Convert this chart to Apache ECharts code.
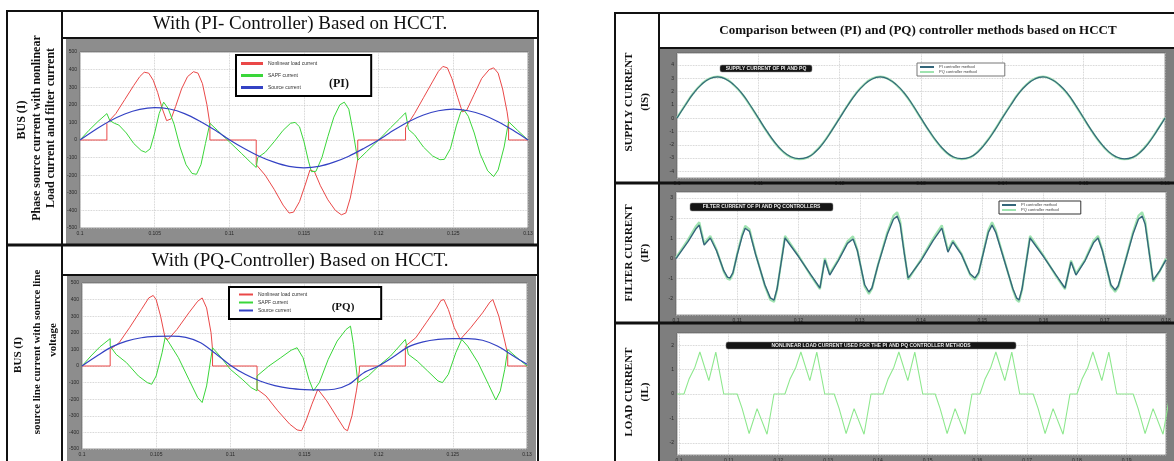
<!DOCTYPE html>
<html>
<head>
<meta charset="utf-8">
<title>PI / PQ controller based on HCCT</title>
<script src="https://cdn.jsdelivr.net/npm/echarts@6/dist/echarts.min.js"></script>
<style>
html,body{margin:0;padding:0;background:#fff;}
#main{width:1174px;height:461px;}
</style>
</head>
<body>
<div id="main"></div>
<script type="text/javascript">
// ---- left figure data (time in s, current in A) ----
var leftTime = [0.100,0.101,0.102,0.103,0.104,0.105,0.106,0.107,0.108,0.109,
                0.110,0.111,0.112,0.113,0.114,0.115,0.116,0.117,0.118,0.119,
                0.120,0.121,0.122,0.123,0.124,0.125,0.126,0.127,0.128,0.129,0.130];
var piSource = [0,57,108,148,174,184,176,150,108,58,
                2,-48,-92,-126,-150,-158,-150,-126,-92,-48,
                0,55,104,142,166,175,166,142,104,55,0];
var pqSource = [0,60,115,150,170,178,180,172,140,75,
                5,-50,-90,-118,-135,-142,-144,-140,-110,-40,
                0,55,115,145,160,165,165,155,120,65,10];

var piLoad = [[0.1,0],[0.1018,0],[0.1018,95],[0.1024,150],[0.1030,230],[0.1036,310],[0.1040,360],[0.1043,385],[0.1046,380],
  [0.1049,340],[0.1052,270],[0.1055,180],[0.1058,110],[0.1061,120],[0.1064,190],[0.1068,290],[0.1072,360],[0.1076,388],
  [0.1079,380],[0.1082,320],[0.1085,200],[0.1087,90],[0.1087,0],
  [0.1118,0],[0.1118,-140],[0.1124,-200],[0.1130,-280],[0.1136,-370],[0.1140,-415],[0.1143,-410],[0.1147,-350],[0.1151,-250],
  [0.1154,-170],[0.1157,-180],[0.1161,-260],[0.1166,-340],[0.1171,-400],[0.1175,-425],[0.1178,-415],[0.1181,-330],[0.1184,-200],
  [0.1186,-110],[0.1186,0],
  [0.1218,0],[0.1218,70],[0.1224,150],[0.1230,240],[0.1236,330],[0.1240,390],[0.1243,418],[0.1246,410],[0.1249,350],
  [0.1253,240],[0.1256,160],[0.1259,170],[0.1264,260],[0.1269,350],[0.1274,400],[0.1277,410],[0.1280,380],[0.1283,290],
  [0.1286,160],[0.1287,100],[0.1287,0],[0.13,0]];
var piFilter = [[0.1,0],[0.1006,55],[0.1012,105],[0.1018,150],[0.1020,110],[0.1023,95],[0.1026,85],[0.1031,40],[0.1036,-20],
  [0.1041,-60],[0.1044,-70],[0.1047,-50],[0.1050,40],[0.1053,150],[0.1056,215],[0.1059,180],[0.1063,90],[0.1067,-40],
  [0.1071,-140],[0.1075,-190],[0.1078,-195],[0.1081,-140],[0.1084,-20],[0.1087,95],[0.1092,55],[0.1100,-10],[0.1108,-75],
  [0.1114,-125],[0.1118,-156],[0.1119,-100],[0.1124,-70],[0.1130,-10],[0.1136,55],[0.1141,95],[0.1144,100],[0.1147,75],
  [0.1150,-10],[0.1153,-120],[0.1155,-180],[0.1158,-178],[0.1162,-100],[0.1166,20],[0.1170,130],[0.1174,200],[0.1177,215],
  [0.1180,175],[0.1183,40],[0.1186,-115],[0.1192,-65],[0.1200,0],[0.1208,70],[0.1214,120],[0.1218,155],[0.1220,60],
  [0.1224,30],[0.1230,-40],[0.1236,-90],[0.1241,-112],[0.1244,-110],[0.1248,-50],[0.1252,80],[0.1255,160],[0.1257,172],
  [0.1260,135],[0.1264,40],[0.1268,-80],[0.1273,-175],[0.1277,-208],[0.1280,-170],[0.1284,-40],[0.1287,104],[0.1293,55],[0.1300,0]];

var pqLoad = [[0.1,0],[0.1019,0],[0.1019,100],[0.1025,140],[0.1032,230],[0.1040,340],[0.1045,410],[0.1048,425],[0.1050,400],
  [0.1053,300],[0.1056,170],[0.1058,160],[0.1064,220],[0.1072,320],[0.1078,390],[0.1081,410],[0.1084,350],[0.1087,200],
  [0.1088,100],[0.1088,0],
  [0.1118,0],[0.1118,-140],[0.1124,-180],[0.1132,-270],[0.1140,-350],[0.1145,-385],[0.1148,-390],[0.1151,-330],[0.1155,-230],
  [0.1159,-140],[0.1165,-210],[0.1172,-310],[0.1177,-380],[0.1179,-390],[0.1182,-300],[0.1185,-150],[0.1187,-30],[0.1187,0],
  [0.1218,0],[0.1218,120],[0.1225,170],[0.1232,260],[0.1239,350],[0.1242,395],[0.1244,400],[0.1247,340],[0.1251,230],
  [0.1255,160],[0.1262,230],[0.1270,320],[0.1275,385],[0.1277,400],[0.1281,300],[0.1285,150],[0.1287,70],[0.1287,0],[0.13,0]];
var pqFilter = [[0.1,0],[0.1006,60],[0.1012,115],[0.1019,165],[0.1019,120],[0.1023,70],[0.1030,20],[0.1038,-60],[0.1044,-100],
  [0.1047,-110],[0.1050,-60],[0.1054,80],[0.1056,170],[0.1058,150],[0.1065,50],[0.1072,-80],[0.1078,-190],[0.1081,-220],
  [0.1084,-120],[0.1088,110],[0.1093,60],[0.1100,-20],[0.1108,-80],[0.1114,-130],[0.1118,-150],[0.1118,-60],[0.1126,0],
  [0.1134,50],[0.1141,95],[0.1145,110],[0.1149,50],[0.1153,-80],[0.1156,-150],[0.1160,-100],[0.1166,40],[0.1172,150],
  [0.1178,220],[0.1181,240],[0.1183,130],[0.1186,-100],[0.1193,-60],[0.1200,0],[0.1208,60],[0.1214,120],[0.1218,160],
  [0.1220,70],[0.1226,30],[0.1233,-30],[0.1240,-90],[0.1243,-100],[0.1247,-50],[0.1252,80],[0.1256,160],[0.1260,120],
  [0.1267,20],[0.1274,-110],[0.1279,-205],[0.1282,-150],[0.1285,-20],[0.1287,100],[0.1292,60],[0.13,0]];

// ---- right figure data ----
var supplyTime = [0.100,0.101,0.102,0.103,0.104,0.105,0.106,0.107,0.108,0.109,
                  0.110,0.111,0.112,0.113,0.114,0.115,0.116,0.117,0.118,0.119,
                  0.120,0.121,0.122,0.123,0.124,0.125,0.126,0.127,0.128,0.129,
                  0.130,0.131,0.132,0.133,0.134,0.135,0.136,0.137,0.138,0.139,
                  0.140,0.141,0.142,0.143,0.144,0.145,0.146,0.147,0.148,0.149,
                  0.150,0.151,0.152,0.153,0.154,0.155,0.156,0.157,0.158,0.159,0.160];
var supplyPI = [0,0.95,1.84,2.52,2.96,3.1,2.93,2.5,1.85,0.97,
                0.02,-0.94,-1.8,-2.48,-2.9,-3.05,-2.95,-2.55,-1.86,-0.96,
                0,0.96,1.83,2.5,2.95,3.1,2.93,2.5,1.85,0.97,
                0,-0.95,-1.81,-2.49,-2.92,-3.05,-2.94,-2.54,-1.84,-0.97,
                0.01,0.95,1.84,2.51,2.95,3.1,2.92,2.51,1.86,0.98,
                0.01,-0.95,-1.8,-2.48,-2.91,-3.06,-2.95,-2.55,-1.85,-0.96,0];
var supplyPQ = [0.03,0.98,1.87,2.55,2.99,3.13,2.96,2.47,1.82,0.94,
                -0.02,-0.97,-1.83,-2.51,-2.94,-3.08,-2.97,-2.52,-1.82,-0.93,
                0.03,0.99,1.86,2.53,2.98,3.13,2.95,2.47,1.82,0.94,
                -0.03,-0.98,-1.84,-2.52,-2.95,-3.08,-2.96,-2.51,-1.81,-0.94,
                0.04,0.98,1.87,2.54,2.98,3.13,2.94,2.48,1.83,0.95,
                -0.02,-0.98,-1.83,-2.51,-2.94,-3.09,-2.97,-2.52,-1.82,-0.93,0.03];

var filterPI = [[0.1,0],[0.1020,0.85],[0.1032,1.45],[0.1038,1.66],[0.1046,0.67],[0.1056,1.02],[0.1066,0.4],[0.1078,-0.6],
  [0.1084,-0.92],[0.1088,-0.97],[0.1093,-0.7],[0.1100,0.2],[0.1108,1.1],[0.1113,1.5],[0.1116,1.56],[0.1120,1.35],[0.1130,0.2],
  [0.1145,-1.3],[0.1154,-1.95],[0.1160,-2.06],[0.1165,-1.5],[0.1178,1.02],[0.1200,0.1],[0.1220,-0.8],[0.1235,-1.46],
  [0.1243,-0.07],[0.1251,-0.82],[0.1265,-0.1],[0.1280,0.75],[0.1289,0.97],[0.1296,0.4],[0.1308,-1.3],[0.1315,-1.66],
  [0.1320,-1.45],[0.1330,-0.3],[0.1345,1.2],[0.1355,1.95],[0.1361,2.11],[0.1366,1.7],[0.1373,0.2],[0.1379,-0.97],
  [0.1400,-0.1],[0.1420,0.9],[0.1434,1.51],[0.1444,0.32],[0.1452,0.82],[0.1466,0.2],[0.1480,-0.75],[0.1488,-0.97],
  [0.1494,-0.7],[0.1502,0.3],[0.1510,1.3],[0.1516,1.66],[0.1522,1.3],[0.1535,0],[0.1550,-1.5],[0.1556,-1.95],[0.1560,-2.06],
  [0.1565,-1.5],[0.1578,1.02],[0.1600,0.1],[0.1620,-0.8],[0.1635,-1.46],[0.1645,-0.17],[0.1653,-0.82],[0.1668,-0.1],
  [0.1682,0.8],[0.1689,1.02],[0.1696,0.4],[0.1710,-1.3],[0.1717,-1.56],[0.1722,-1.35],[0.1733,-0.2],[0.1746,1.2],
  [0.1755,1.95],[0.1761,2.11],[0.1766,1.7],[0.1773,0.2],[0.1779,-1.07],[0.1790,-0.6],[0.18,-0.07]];
var filterPQ = [[0.1,0.05],[0.1020,0.95],[0.1032,1.58],[0.1038,1.8],[0.1046,0.75],[0.1056,1.12],[0.1066,0.45],[0.1078,-0.65],
  [0.1084,-1.0],[0.1088,-1.05],[0.1093,-0.75],[0.1100,0.25],[0.1108,1.2],[0.1113,1.62],[0.1116,1.7],[0.1120,1.45],[0.1130,0.25],
  [0.1145,-1.35],[0.1154,-2.05],[0.1160,-2.15],[0.1165,-1.55],[0.1178,1.12],[0.1200,0.15],[0.1220,-0.85],[0.1235,-1.52],
  [0.1243,0.02],[0.1251,-0.75],[0.1265,-0.05],[0.1280,0.85],[0.1289,1.1],[0.1296,0.45],[0.1308,-1.38],[0.1315,-1.75],
  [0.1320,-1.5],[0.1330,-0.28],[0.1345,1.3],[0.1355,2.12],[0.1361,2.3],[0.1366,1.85],[0.1373,0.25],[0.1379,-1.05],
  [0.1400,-0.05],[0.1420,1.0],[0.1434,1.65],[0.1444,0.4],[0.1452,0.9],[0.1466,0.25],[0.1480,-0.8],[0.1488,-1.05],
  [0.1494,-0.75],[0.1502,0.35],[0.1510,1.42],[0.1516,1.8],[0.1522,1.4],[0.1535,0.05],[0.1550,-1.55],[0.1556,-2.05],[0.1560,-2.15],
  [0.1565,-1.55],[0.1578,1.12],[0.1600,0.15],[0.1620,-0.85],[0.1635,-1.52],[0.1645,-0.1],[0.1653,-0.75],[0.1668,-0.05],
  [0.1682,0.9],[0.1689,1.12],[0.1696,0.45],[0.1710,-1.38],[0.1717,-1.65],[0.1722,-1.42],[0.1733,-0.18],[0.1746,1.3],
  [0.1755,2.12],[0.1761,2.3],[0.1766,1.85],[0.1773,0.25],[0.1779,-1.15],[0.1790,-0.62],[0.18,0]];

var loadCurrent = [[0.0996,0],[0.1010,0],[0.1020,0.6],[0.1032,1.1],[0.1042,1.72],[0.1060,0.55],[0.1074,1.72],[0.1090,0],
  [0.1117,0],[0.1127,-0.6],[0.1141,-1.62],[0.1157,-0.6],[0.1177,-1.65],[0.1191,0],
  [0.1213,0],[0.1223,0.6],[0.1235,1.1],[0.1245,1.72],[0.1263,0.55],[0.1277,1.72],[0.1293,0],
  [0.1312,0],[0.1322,-0.6],[0.1336,-1.62],[0.1352,-0.6],[0.1372,-1.65],[0.1386,0],
  [0.1410,0],[0.1420,0.6],[0.1432,1.1],[0.1442,1.72],[0.1460,0.55],[0.1474,1.72],[0.1490,0],
  [0.1515,0],[0.1525,-0.6],[0.1539,-1.62],[0.1555,-0.6],[0.1575,-1.65],[0.1589,0],
  [0.1605,0],[0.1615,0.6],[0.1627,1.1],[0.1637,1.72],[0.1655,0.55],[0.1669,1.72],[0.1685,0],
  [0.1712,0],[0.1722,-0.6],[0.1736,-1.62],[0.1752,-0.6],[0.1772,-1.65],[0.1786,0],
  [0.1800,0],[0.1810,0.6],[0.1822,1.1],[0.1832,1.72],[0.1850,0.55],[0.1864,1.72],[0.1880,0],
  [0.1913,0],[0.1923,-0.6],[0.1937,-1.62],[0.1953,-0.6],[0.1973,-1.65],[0.1987,0]];

var leftNames = ['Nonlinear load current', 'SAPF current', 'Source current'];
var rightNames = ['PI controller method', 'PQ controller method'];

var red = '#ea4848', green = '#3ad63a', blue = '#3442c4';
var piDark = '#34667a', pqLight = '#9fe3b0', loadGreen = '#8ee88e';
var serif = '"Liberation Serif", "DejaVu Serif", serif';

function pairs(xs, ys){
    return xs.map(function(x, i){ return [x, ys[i]]; });
}

var myChart = echarts.init(document.getElementById('main'));

var gridBox = [
    {left:80,  top:52,  width:448, height:176},
    {left:82,  top:283, width:445, height:166},
    {left:677, top:53,  width:488, height:125},
    {left:676, top:192, width:490, height:123},
    {left:677, top:333, width:489, height:122}
];
var grids = gridBox.map(function(g){
    return {left:g.left, top:g.top, width:g.width, height:g.height, show:true,
            backgroundColor:'#fff', borderColor:'#555', borderWidth:0.6, z:2, outerBoundsMode:'none'};
});

var axisLab = {fontSize:5, color:'#2a2a2a', margin:3, fontFamily:'"Liberation Sans", sans-serif'};
var split = {show:true, lineStyle:{color:'#c4c4c4', type:'dotted', width:0.8}};
function xAx(i, min, max, interval, extra){
    var a = {type:'value', gridIndex:i, min:min, max:max, z:3,
             axisLine:{show:false}, axisTick:{show:false}, splitLine:split, axisLabel:axisLab};
    if (interval) a.interval = interval;
    return Object.assign(a, extra || {});
}
function yAx(i, min, max, interval, extra){
    var a = {type:'value', gridIndex:i, min:min, max:max, z:3,
             axisLine:{show:false}, axisTick:{show:false}, splitLine:split, axisLabel:axisLab};
    if (interval) a.interval = interval;
    return Object.assign(a, extra || {});
}
var noEdge = {axisLabel:Object.assign({}, axisLab, {showMinLabel:false, showMaxLabel:false})};

function line(name, i, data, color, width, z, smooth){
    return {name:name, type:'line', xAxisIndex:i, yAxisIndex:i, data:data, symbol:'none',
            smooth:smooth || false, z:z, lineStyle:{color:color, width:width}, itemStyle:{color:color},
            emphasis:{disabled:true}, animation:false};
}

function legendBox(left, top, names, o){
    return Object.assign({left:left, top:top, orient:'vertical', data:names, icon:'rect',
        backgroundColor:'#fff', borderColor:'#000', borderWidth:2, borderRadius:0, z:8,
        selectedMode:false, textStyle:{fontSize:5, color:'#333', fontFamily:'"Liberation Sans", sans-serif'}}, o);
}

function frame(x, y, w, h, fill){
    return {type:'rect', z:-10, shape:{x:x, y:y, width:w, height:h}, style:{fill:fill}, silent:true};
}
function bar(x1, y1, x2, y2, w){
    return {type:'line', z:20, shape:{x1:x1, y1:y1, x2:x2, y2:y2}, style:{stroke:'#111', lineWidth:w}, silent:true};
}
function txt(x, y, s, font, rot){
    return {type:'text', z:20, x:x, y:y, rotation:rot || 0, silent:true,
            style:{text:s, font:font, fill:'#111', textAlign:'center', textVerticalAlign:'middle'}};
}
function tag(x, y, w, h, s){
    return {type:'group', z:20, silent:true, children:[
        {type:'rect', z:20, shape:{x:x, y:y, width:w, height:h, r:2}, style:{fill:'#151515', stroke:'#888', lineWidth:0.5}},
        {type:'text', z:21, x:x + w / 2, y:y + h / 2, style:{text:s, font:'bold 5px "Liberation Sans"', fill:'#e8e8e8',
            textAlign:'center', textVerticalAlign:'middle'}}
    ]};
}

var option = {
    backgroundColor:'#fff',
    animation:false,
    grid: grids,
    xAxis: [
        xAx(0, 0.1, 0.13, 0.005),
        xAx(1, 0.1, 0.13, 0.005),
        xAx(2, 0.1, 0.16, 0.01),
        xAx(3, 0.1, 0.18, 0.01),
        xAx(4, 0.0996, 0.1979, null, Object.assign({splitNumber:10}, noEdge))
    ],
    yAxis: [
        yAx(0, -500, 500, 100),
        yAx(1, -500, 500, 100),
        yAx(2, -4.5, 4.9, null, Object.assign({splitNumber:9}, noEdge)),
        yAx(3, -2.8, 3.3, null, Object.assign({splitNumber:6}, noEdge)),
        yAx(4, -2.5, 2.5, null, Object.assign({splitNumber:5}, noEdge))
    ],
    legend: [
        legendBox(236, 55, leftNames, {itemWidth:22, itemHeight:3, itemGap:7, padding:[6, 54, 6, 5]}),
        legendBox(229, 287, leftNames, {itemWidth:14, itemHeight:2, itemGap:3, padding:[5, 74, 6, 10]}),
        legendBox(917, 63, rightNames, {itemWidth:14, itemHeight:2, itemGap:1, padding:[2, 28, 2, 3],
            borderColor:'#777', borderWidth:1, textStyle:{fontSize:4, color:'#444'}}),
        legendBox(999, 201, rightNames, {itemWidth:14, itemHeight:2, itemGap:1, padding:[2, 22, 2, 3],
            borderColor:'#333', borderWidth:1, textStyle:{fontSize:4, color:'#444'}})
    ],
    graphic: {elements: [
        frame(66, 39, 468, 206, '#8d8d8d'),
        frame(67, 276, 469, 190, '#8d8d8d'),
        frame(660, 49, 520, 134, '#7e7e7e'),
        frame(660, 184, 520, 139, '#7e7e7e'),
        frame(660, 324, 520, 140, '#7e7e7e'),
        // borders of the two figures
        {type:'rect', z:20, silent:true, shape:{x:7, y:11, width:531, height:470}, style:{fill:null, stroke:'#111', lineWidth:2}},
        bar(62, 11, 62, 470, 2),
        bar(62, 38, 538, 38, 2),
        bar(7, 245, 538, 245, 3),
        bar(62, 275, 538, 275, 2),
        {type:'rect', z:20, silent:true, shape:{x:615, y:13, width:570, height:470}, style:{fill:null, stroke:'#111', lineWidth:2}},
        bar(659, 13, 659, 470, 2),
        bar(659, 48, 1174, 48, 2),
        bar(615, 183, 1174, 183, 3),
        bar(615, 323, 1174, 323, 3),
        // titles
        txt(300, 24, 'With (PI- Controller) Based on HCCT.', '19px ' + serif),
        txt(300, 261, 'With (PQ-Controller) Based on HCCT.', '19px ' + serif),
        txt(918, 31, 'Comparison between (PI) and (PQ) controller methods based on HCCT', 'bold 13px ' + serif),
        // row labels
        txt(22, 120, 'BUS (I)', 'bold 12px ' + serif, Math.PI / 2),
        txt(37, 128, 'Phase source current with nonlinear', 'bold 12px ' + serif, Math.PI / 2),
        txt(51, 128, 'Load current and filter current', 'bold 12px ' + serif, Math.PI / 2),
        txt(18, 355, 'BUS (I)', 'bold 11px ' + serif, Math.PI / 2),
        txt(37, 352, 'source line current with source line', 'bold 11px ' + serif, Math.PI / 2),
        txt(53, 340, 'voltage', 'bold 11px ' + serif, Math.PI / 2),
        txt(629, 102, 'SUPPLY CURRENT', 'bold 11px ' + serif, Math.PI / 2),
        txt(645, 102, '(IS)', 'bold 11px ' + serif, Math.PI / 2),
        txt(629, 253, 'FILTER CURRENT', 'bold 11px ' + serif, Math.PI / 2),
        txt(645, 253, '(IF)', 'bold 11px ' + serif, Math.PI / 2),
        txt(629, 392, 'LOAD CURRENT', 'bold 11px ' + serif, Math.PI / 2),
        txt(645, 392, '(IL)', 'bold 11px ' + serif, Math.PI / 2),
        // controller tags inside the legends
        txt(339, 84, '(PI)', 'bold 12px ' + serif),
        txt(343, 307, '(PQ)', 'bold 11px ' + serif),
        // black caption boxes on the right plots
        tag(720, 65, 92, 7, 'SUPPLY CURRENT OF PI AND PQ'),
        tag(690, 203, 143, 8, 'FILTER CURRENT OF PI AND PQ CONTROLLERS'),
        tag(726, 342, 290, 7, 'NONLINEAR LOAD CURRENT USED FOR THE PI AND PQ CONTROLLER METHODS')
    ]},
    series: [
        line(leftNames[0], 0, piLoad, red, 1, 4),
        line(leftNames[1], 0, piFilter, green, 1, 5),
        line(leftNames[2], 0, pairs(leftTime, piSource), blue, 1.2, 6, 0.3),
        line(leftNames[0], 1, pqLoad, red, 1, 4),
        line(leftNames[1], 1, pqFilter, green, 1, 5),
        line(leftNames[2], 1, pairs(leftTime, pqSource), blue, 1.2, 6, 0.3),
        line(rightNames[1], 2, pairs(supplyTime, supplyPQ), pqLight, 2.2, 4, true),
        line(rightNames[0], 2, pairs(supplyTime, supplyPI), piDark, 1.2, 5, true),
        line(rightNames[1], 3, filterPQ, pqLight, 2.2, 4),
        line(rightNames[0], 3, filterPI, piDark, 1.4, 5),
        line('Load current', 4, loadCurrent, loadGreen, 1.1, 4)
    ]
};

myChart.setOption(option);
</script>
</body>
</html>
